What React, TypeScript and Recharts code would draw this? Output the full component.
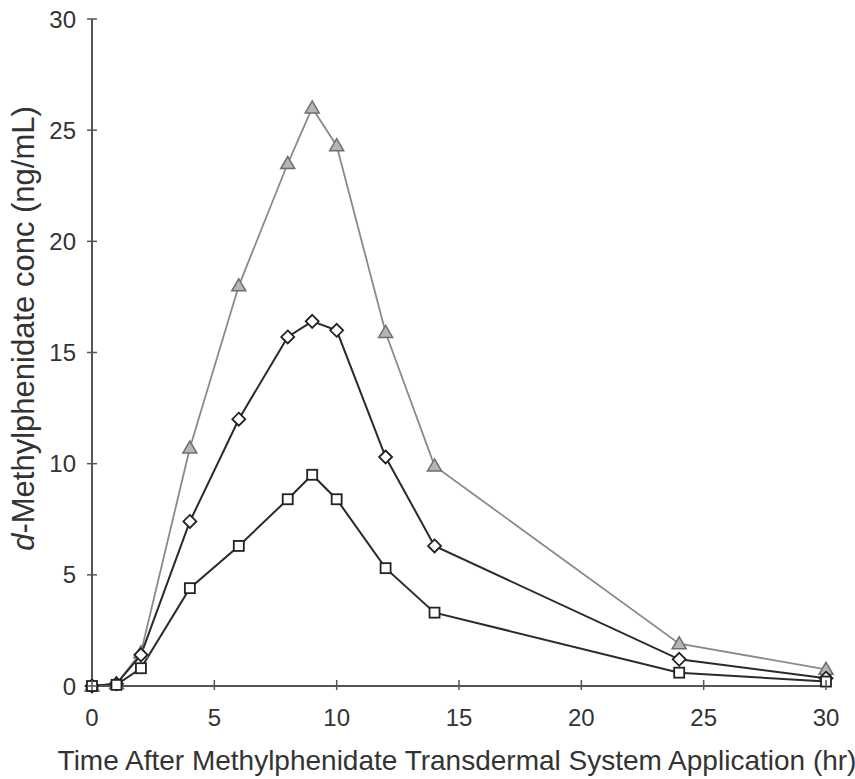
import React from "react";
import { LineChart, Line, XAxis, YAxis } from "recharts";

const hours = [0, 1, 2, 4, 6, 8, 9, 10, 12, 14, 24, 30];
const triangleSeries = [0, 0.1, 1.5, 10.7, 18.0, 23.5, 26.0, 24.3, 15.9, 9.9, 1.9, 0.75];
const diamondSeries = [0, 0.1, 1.4, 7.4, 12.0, 15.7, 16.4, 16.0, 10.3, 6.3, 1.2, 0.35];
const squareSeries = [0, 0.05, 0.8, 4.4, 6.3, 8.4, 9.5, 8.4, 5.3, 3.3, 0.6, 0.2];
const xTicks = [0, 5, 10, 15, 20, 25, 30];
const yTicks = [0, 5, 10, 15, 20, 25, 30];

const data = hours.map((h, i) => ({
  h,
  tri: triangleSeries[i],
  dia: diamondSeries[i],
  sq: squareSeries[i],
}));

const FONT = "'Liberation Sans', Arial, Helvetica, sans-serif";
const AXIS = "#555";
const TEXT = "#333";

const XTick = (props: any) => {
  const { x, y, payload } = props;
  return (
    <g>
      <line x1={x} x2={x} y1={y - 6} y2={y + 4} stroke={AXIS} strokeWidth={1.5} />
      <text x={x} y={y + 40} textAnchor="middle" fontSize={24} fill={TEXT} fontFamily={FONT}>
        {payload.value}
      </text>
    </g>
  );
};

const YTick = (props: any) => {
  const { x, y, payload } = props;
  return (
    <g>
      <line x1={x - 5} x2={x + 5} y1={y} y2={y} stroke={AXIS} strokeWidth={1.5} />
      <text x={x - 16} y={y + 8.5} textAnchor="end" fontSize={24} fill={TEXT} fontFamily={FONT}>
        {payload.value}
      </text>
    </g>
  );
};

const TriDot = (props: any) => {
  const { cx, cy } = props;
  if (cx == null || cy == null) return null;
  return (
    <polygon
      points={`${cx},${cy - 7} ${cx + 7},${cy + 5} ${cx - 7},${cy + 5}`}
      fill="#b5b5b5"
      stroke="#6e6e6e"
      strokeWidth={1.5}
    />
  );
};

const DiaDot = (props: any) => {
  const { cx, cy } = props;
  if (cx == null || cy == null) return null;
  return (
    <polygon
      points={`${cx},${cy - 6.5} ${cx + 6.5},${cy} ${cx},${cy + 6.5} ${cx - 6.5},${cy}`}
      fill="#fff"
      stroke="#222"
      strokeWidth={1.8}
    />
  );
};

const SqDot = (props: any) => {
  const { cx, cy } = props;
  if (cx == null || cy == null) return null;
  return <rect x={cx - 5} y={cy - 5} width={10} height={10} fill="#fff" stroke="#222" strokeWidth={1.8} />;
};

const YLabel = (props: any) => {
  const vb = props.viewBox || {};
  const x = vb.x + 23;
  const y = vb.y + vb.height / 2 - 24;
  return (
    <text
      x={x}
      y={y}
      transform={`rotate(-90, ${x}, ${y})`}
      textAnchor="middle"
      dominantBaseline="central"
      fontSize={31}
      fill={TEXT}
      fontFamily={FONT}
    >
      <tspan fontStyle="italic">d</tspan>
      <tspan>-Methylphenidate conc (ng/mL)</tspan>
    </text>
  );
};

const XLabel = (props: any) => {
  const vb = props.viewBox || {};
  const x = vb.x + vb.width / 2 - 2;
  const y = vb.y + 84;
  return (
    <text x={x} y={y} textAnchor="middle" fontSize={28} fill={TEXT} fontFamily={FONT}>
      Time After Methylphenidate Transdermal System Application (hr)
    </text>
  );
};

export default function App() {
  return (
    <div style={{ position: "absolute", left: 0, top: 0, background: "#fff" }}>
      <LineChart width={855} height={779} data={data} margin={{ top: 19, right: 29, bottom: 0, left: 0 }}>
        <XAxis
          dataKey="h"
          type="number"
          domain={[0, 30]}
          ticks={xTicks}
          interval={0}
          height={93}
          tickSize={0}
          tickMargin={0}
          tickLine={false}
          axisLine={{ stroke: AXIS, strokeWidth: 2 }}
          tick={<XTick />}
          label={<XLabel />}
        />
        <YAxis
          type="number"
          domain={[0, 30]}
          ticks={yTicks}
          interval={0}
          width={92}
          tickSize={0}
          tickMargin={0}
          tickLine={false}
          axisLine={{ stroke: AXIS, strokeWidth: 2 }}
          tick={<YTick />}
          label={<YLabel />}
        />
        <Line
          dataKey="tri"
          stroke="#8a8a8a"
          strokeWidth={1.8}
          dot={<TriDot />}
          isAnimationActive={false}
        />
        <Line
          dataKey="dia"
          stroke="#2a2a2a"
          strokeWidth={2}
          dot={<DiaDot />}
          isAnimationActive={false}
        />
        <Line
          dataKey="sq"
          stroke="#2a2a2a"
          strokeWidth={2}
          dot={<SqDot />}
          isAnimationActive={false}
        />
      </LineChart>
    </div>
  );
}
